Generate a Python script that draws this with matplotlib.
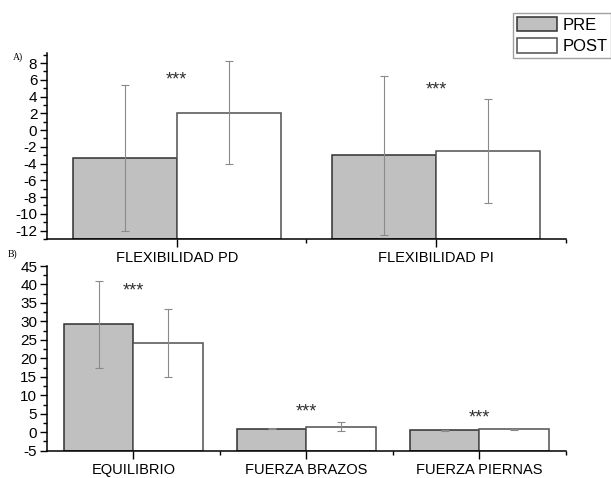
import numpy as np
import matplotlib.pyplot as plt
from matplotlib.ticker import MultipleLocator, FixedLocator

plt.rcParams['font.family'] = ['Liberation Sans', 'DejaVu Sans']
plt.rcParams['axes.unicode_minus'] = False

# A) flexibility tests
flex_labels = ['FLEXIBILIDAD PD', 'FLEXIBILIDAD PI']
flex_pre = [-3.3, -3.0]
flex_pre_sd = [8.7, 9.5]
flex_post = [2.1, -2.5]
flex_post_sd = [6.1, 6.2]
flex_stars_y = [6.0, 4.8]

# B) balance and strength tests
fis_labels = ['EQUILIBRIO', 'FUERZA BRAZOS', 'FUERZA PIERNAS']
fis_pre = [29.2, 1.0, 0.5]
fis_pre_sd = [11.7, 0.1, 0.1]
fis_post = [24.2, 1.5, 0.8]
fis_post_sd = [9.2, 1.25, 0.1]
fis_stars_y = [38.3, 5.4, 3.9]

PRE_COLOR = '#c0c0c0'
POST_COLOR = '#ffffff'
ERR_COLOR = '#8a8a8a'
W = 0.4


def draw_panel(ax, labels, pre, pre_sd, post, post_sd, stars_y, ylim, major, minor):
    x = np.arange(1, len(labels) + 1)
    base = ylim[0]
    pre = np.asarray(pre)
    post = np.asarray(post)
    # bars start at the bottom of the axis, like Origin does
    ax.bar(x - W / 2, pre - base, W, bottom=base, color=PRE_COLOR,
           edgecolor='#303030', linewidth=1.1, label='PRE', zorder=2)
    ax.bar(x + W / 2, post - base, W, bottom=base, color=POST_COLOR,
           edgecolor='#505050', linewidth=1.1, label='POST', zorder=2)
    ax.errorbar(x - W / 2, pre, yerr=pre_sd, fmt='none', ecolor=ERR_COLOR,
                elinewidth=0.8, capsize=3, capthick=0.8, zorder=3)
    ax.errorbar(x + W / 2, post, yerr=post_sd, fmt='none', ecolor=ERR_COLOR,
                elinewidth=0.8, capsize=3, capthick=0.8, zorder=3)
    for xi, yi in zip(x, stars_y):
        ax.text(xi, yi, '***', ha='center', va='center', fontsize=13,
                color='#303030')

    ax.set_xlim(0.5, len(labels) + 0.5)
    ax.set_ylim(*ylim)
    ax.set_xticks(x)
    ax.set_xticklabels(labels, fontsize=10.5)
    ax.xaxis.set_minor_locator(FixedLocator(np.arange(1.5, len(labels) + 0.6, 1)))
    ax.yaxis.set_major_locator(MultipleLocator(major))
    ax.yaxis.set_minor_locator(MultipleLocator(minor))
    ax.tick_params(axis='x', which='major', direction='out', length=6,
                   width=1, pad=3)
    ax.tick_params(axis='x', which='minor', direction='out', length=3, width=1)
    ax.tick_params(axis='y', which='major', direction='out', length=5,
                   width=1, pad=2, labelsize=11)
    ax.tick_params(axis='y', which='minor', direction='out', length=3, width=1)
    for side in ('top', 'right'):
        ax.spines[side].set_visible(False)
    for side in ('left', 'bottom'):
        ax.spines[side].set_linewidth(1.1)


fig = plt.figure(figsize=(6.11, 4.78), dpi=100)
ax_a = fig.add_axes([0.0769, 0.5, 0.8494, 0.389])
ax_b = fig.add_axes([0.0769, 0.0571, 0.8494, 0.3864])

draw_panel(ax_a, flex_labels, flex_pre, flex_pre_sd, flex_post, flex_post_sd,
           flex_stars_y, (-13, 9.2), 2, 1)
draw_panel(ax_b, fis_labels, fis_pre, fis_pre_sd, fis_post, fis_post_sd,
           fis_stars_y, (-5, 45), 5, 2.5)

fig.text(0.021, 0.881, 'A)', family='Liberation Serif', fontsize=7,
         ha='left', va='center')
fig.text(0.013, 0.468, 'B)', family='Liberation Serif', fontsize=7,
         ha='left', va='center')

handles, labels = ax_a.get_legend_handles_labels()
leg = fig.legend(handles, labels, loc='upper left',
                 bbox_to_anchor=(0.8396, 0.9728), bbox_transform=fig.transFigure,
                 borderaxespad=0, fontsize=12, fancybox=False, framealpha=1,
                 edgecolor='#a0a0a0', handlelength=2.45, handleheight=0.95,
                 labelspacing=0.35, borderpad=0.22, handletextpad=0.3)
leg.get_frame().set_linewidth(1)

fig.savefig('out.png', dpi=100)
